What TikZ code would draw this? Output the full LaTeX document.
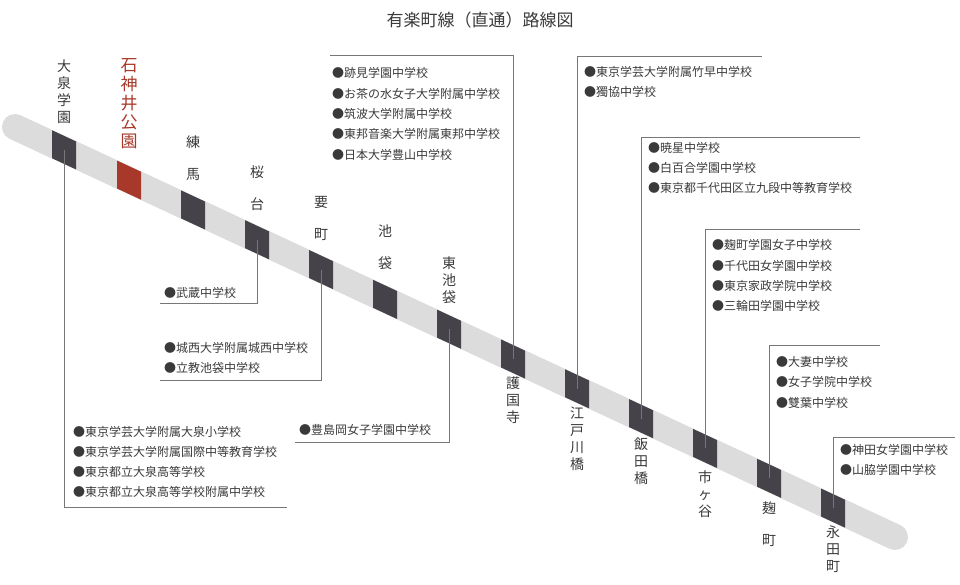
\documentclass[tikz,border=0pt]{standalone}
\usepackage{fontspec}
\setmainfont{Noto Sans CJK JP}
\definecolor{band}{HTML}{DCDCDC}
\definecolor{stn}{HTML}{45424A}
\definecolor{redst}{HTML}{A8392A}
\definecolor{txt}{HTML}{3A3A3A}
\definecolor{ln}{HTML}{777777}
\begin{document}
\begin{tikzpicture}[x=1pt,y=-1pt,
  lbl/.style={font=\fontsize{12}{14}\selectfont,text=txt,anchor=west,inner sep=0pt},
  vlbl/.style={font=\fontsize{14}{17}\selectfont,text=txt,align=center,inner sep=0pt},
  callout/.style={draw=ln,line width=0.6pt}]
\useasboundingbox (0,0) rectangle (960,585);
\node[font=\fontsize{17}{20}\selectfont,text=txt] (title) at (480,20) {有楽町線（直通）路線図};
\coordinate (bs) at (15,127);
\coordinate (be) at (895,537);
\draw[band,line width=26pt,line cap=round] (bs) -- (be);
\def\s{0.4659}
\newcommand\stationbox[3]{%
  \coordinate (#1) at (#2,{127+(#2-15)*\s});
  \fill[#3] ([shift={(-12,{-14-12*\s})}]#1) -- ([shift={(12,{-14+12*\s})}]#1) -- ([shift={(12,{14+12*\s})}]#1) -- ([shift={(-12,{14-12*\s})}]#1) -- cycle;}
\stationbox{s1}{64}{stn}
\stationbox{s2}{129}{redst}
\stationbox{s3}{193}{stn}
\stationbox{s4}{257}{stn}
\stationbox{s5}{321}{stn}
\stationbox{s6}{385}{stn}
\stationbox{s7}{449}{stn}
\stationbox{s8}{513}{stn}
\stationbox{s9}{577}{stn}
\stationbox{s10}{641}{stn}
\stationbox{s11}{705}{stn}
\stationbox{s12}{769}{stn}
\stationbox{s13}{833}{stn}
% station labels
\node[vlbl,anchor=north] (n1) at (64,60) {大\\泉\\学\\園};
\node[vlbl,anchor=north,text=redst,font=\fontsize{17}{19}\selectfont] (n2) at (129,58) {石\\神\\井\\公\\園};
\node[vlbl,anchor=north,align=center,font=\fontsize{14}{32}\selectfont] (n3) at (193,136) {練\\馬};
\node[vlbl,anchor=north,font=\fontsize{14}{32}\selectfont] (n4) at (257,166) {桜\\台};
\node[vlbl,anchor=north,font=\fontsize{14}{32}\selectfont] (n5) at (321,196) {要\\町};
\node[vlbl,anchor=north,font=\fontsize{14}{32}\selectfont] (n6) at (385,225) {池\\袋};
\node[vlbl,anchor=north] (n7) at (449,257) {東\\池\\袋};
\node[vlbl,anchor=north] (n8) at (513,377) {護\\国\\寺};
\node[vlbl,anchor=north] (n9) at (577,407) {江\\戸\\川\\橋};
\node[vlbl,anchor=north] (n10) at (641,438) {飯\\田\\橋};
\node[vlbl,anchor=north] (n11) at (705,470) {市\\ヶ\\谷};
\node[vlbl,anchor=north,font=\fontsize{14}{32}\selectfont] (n12) at (769,502) {麹\\町};
\node[vlbl,anchor=north] (n13) at (833,526) {永\\田\\町};
% callouts
\coordinate (c1) at (64,507); \coordinate (d1) at (287,507);
\draw[callout] (s1) -- (c1) -- (d1);
\coordinate (c4) at (257,303); \coordinate (d4) at (160,303);
\draw[callout] (s4) -- (c4) -- (d4);
\coordinate (c5) at (321,380); \coordinate (d5) at (160,380);
\draw[callout] (s5) -- (c5) -- (d5);
\coordinate (c7) at (449,442); \coordinate (d7) at (295,442);
\draw[callout] (s7) -- (c7) -- (d7);
\coordinate (c8) at (513,55); \coordinate (d8) at (330,55);
\draw[callout] (s8) -- (c8) -- (d8);
\coordinate (c9) at (577,56); \coordinate (d9) at (762,56);
\draw[callout] (s9) -- (c9) -- (d9);
\coordinate (c10) at (641,137); \coordinate (d10) at (860,137);
\draw[callout] (s10) -- (c10) -- (d10);
\coordinate (c11) at (705,229); \coordinate (d11) at (860,229);
\draw[callout] (s11) -- (c11) -- (d11);
\coordinate (c12) at (769,345); \coordinate (d12) at (880,345);
\draw[callout] (s12) -- (c12) -- (d12);
\coordinate (c13) at (833,437); \coordinate (d13) at (955,437);
\draw[callout] (s13) -- (c13) -- (d13);
% school lists
\node[lbl] (a1) at (73,432) {●東京学芸大学附属大泉小学校};
\node[lbl] (a2) at (73,452) {●東京学芸大学附属国際中等教育学校};
\node[lbl] (a3) at (73,472) {●東京都立大泉高等学校};
\node[lbl] (a4) at (73,492) {●東京都立大泉高等学校附属中学校};
\node[lbl] (b1) at (164,293) {●武蔵中学校};
\node[lbl] (e1) at (164,348) {●城西大学附属城西中学校};
\node[lbl] (e2) at (164,368) {●立教池袋中学校};
\node[lbl] (f1) at (299,430) {●豊島岡女子学園中学校};
\node[lbl] (g1) at (332,73) {●跡見学園中学校};
\node[lbl] (g2) at (332,94) {●お茶の水女子大学附属中学校};
\node[lbl] (g3) at (332,114) {●筑波大学附属中学校};
\node[lbl] (g4) at (332,134) {●東邦音楽大学附属東邦中学校};
\node[lbl] (g5) at (332,155) {●日本大学豊山中学校};
\node[lbl] (h1) at (584,72) {●東京学芸大学附属竹早中学校};
\node[lbl] (h2) at (584,92) {●獨協中学校};
\node[lbl] (i1) at (648,148) {●暁星中学校};
\node[lbl] (i2) at (648,168) {●白百合学園中学校};
\node[lbl] (i3) at (648,188) {●東京都千代田区立九段中等教育学校};
\node[lbl] (j1) at (712,245) {●麹町学園女子中学校};
\node[lbl] (j2) at (712,266) {●千代田女学園中学校};
\node[lbl] (j3) at (712,286) {●東京家政学院中学校};
\node[lbl] (j4) at (712,306) {●三輪田学園中学校};
\node[lbl] (k1) at (776,362) {●大妻中学校};
\node[lbl] (k2) at (776,382) {●女子学院中学校};
\node[lbl] (k3) at (776,403) {●雙葉中学校};
\node[lbl] (l1) at (840,450) {●神田女学園中学校};
\node[lbl] (l2) at (840,470) {●山脇学園中学校};
\end{tikzpicture}
\end{document}
